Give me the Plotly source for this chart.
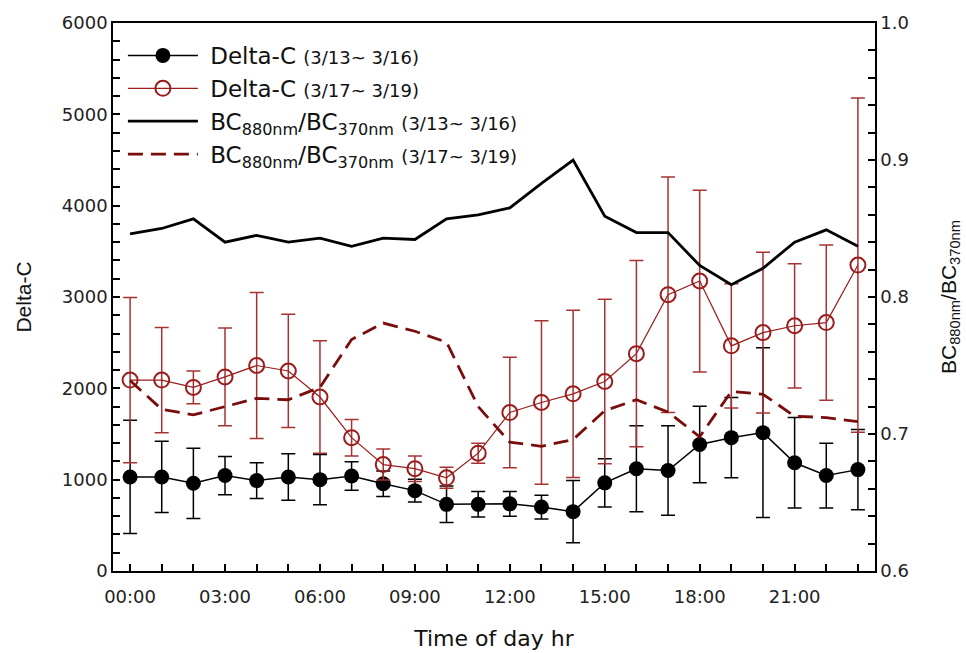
import plotly.graph_objects as go

hours = list(range(24))
tick_hours = [0, 3, 6, 9, 12, 15, 18, 21]
tick_labels = ["00:00", "03:00", "06:00", "09:00", "12:00", "15:00", "18:00", "21:00"]

# Delta-C (3/13~3/16) mean and SD
dc1 = [1030, 1030, 960, 1045, 990, 1030, 1000, 1040, 955, 880, 730, 730,
       735, 700, 650, 965, 1120, 1100, 1385, 1460, 1515, 1185, 1045, 1110]
dc1_err = [620, 390, 385, 210, 195, 255, 275, 155, 140, 125, 200, 140,
           135, 130, 340, 265, 470, 490, 420, 440, 930, 495, 355, 440]

# Delta-C (3/17~3/19) mean and SD
dc2 = [2090, 2090, 2010, 2125, 2250, 2190, 1905, 1460, 1165, 1120, 1020, 1290,
       1735, 1845, 1940, 2075, 2380, 3025, 3175, 2465, 2610, 2685, 2720, 3350]
dc2_err = [905, 575, 180, 535, 800, 620, 615, 200, 170, 140, 115, 110,
           605, 895, 915, 900, 1020, 1290, 995, 680, 880, 680, 850, 1830]

# BC880/BC370 ratio
ratio1 = [0.846, 0.850, 0.857, 0.840, 0.845, 0.840, 0.843, 0.837, 0.843, 0.842, 0.857, 0.860,
          0.865, 0.883, 0.900, 0.859, 0.847, 0.847, 0.823, 0.809, 0.821, 0.840, 0.849, 0.837]
ratio2 = [0.739, 0.718, 0.714, 0.720, 0.726, 0.725, 0.734, 0.769, 0.781, 0.775, 0.767, 0.720,
          0.694, 0.691, 0.696, 0.717, 0.725, 0.716, 0.698, 0.731, 0.729, 0.713, 0.712, 0.709]

RED = "#9a1c1c"
RED_ERR = "#a83232"
DARKRED = "#7a0c0c"
FONT = "Liberation Sans, Arial, sans-serif"
WIDE = "DejaVu Sans, Liberation Sans, sans-serif"

small = "<span style='font-size:18px'>"
nb = "\u00a0"
names = [
    nb + "Delta-C " + small + "(3/13~ 3/16)</span>",
    nb + "Delta-C " + small + "(3/17~ 3/19)</span>",
    nb + "BC<sub>880nm</sub>/BC<sub>370nm</sub> " + small + "(3/13~ 3/16)</span>",
    nb + "BC<sub>880nm</sub>/BC<sub>370nm</sub> " + small + "(3/17~ 3/19)</span>",
]

fig = go.Figure()

fig.add_trace(go.Scatter(
    x=hours, y=dc1, name=names[0], mode="lines+markers",
    line=dict(color="black", width=1.5),
    marker=dict(symbol="circle", size=15, color="black"),
    error_y=dict(type="data", array=dc1_err, visible=True, color="black", thickness=1.5, width=7),
))
fig.add_trace(go.Scatter(
    x=hours, y=dc2, name=names[1], mode="lines+markers",
    line=dict(color=RED, width=1.2),
    marker=dict(symbol="circle-open", size=15, color=RED, line=dict(width=2, color=RED)),
    error_y=dict(type="data", array=dc2_err, visible=True, color=RED_ERR, thickness=1.5, width=7),
))
fig.add_trace(go.Scatter(
    x=hours, y=ratio1, name=names[2], mode="lines", yaxis="y2",
    line=dict(color="black", width=2.8),
))
fig.add_trace(go.Scatter(
    x=hours, y=ratio2, name=names[3], mode="lines", yaxis="y2",
    line=dict(color=DARKRED, width=2.8, dash="15px,8px"),
))

axis_font = dict(family=WIDE, size=18, color="#222")

fig.update_layout(
    width=966, height=653,
    margin=dict(l=113, r=91, t=23, b=82, autoexpand=False),
    paper_bgcolor="white", plot_bgcolor="white",
    font=dict(family=WIDE, color="#111"),
    showlegend=True,
    legend=dict(
        x=0.013, y=0.98, xanchor="left", yanchor="top",
        bgcolor="rgba(0,0,0,0)", borderwidth=0,
        font=dict(family=WIDE, size=23, color="#111"),
        itemwidth=70, tracegroupgap=0,
    ),
    xaxis=dict(
        range=[-0.54, 23.54], automargin=False,
        tickmode="array", tickvals=tick_hours, ticktext=tick_labels,
        ticks="inside", ticklen=7, tickwidth=1.5, tickcolor="black",
        ticklabelstandoff=9,
        minor=dict(tickmode="array", tickvals=hours, ticks="inside", ticklen=7, tickwidth=1.5, tickcolor="black"),
        showline=True, linecolor="black", linewidth=1.5, mirror=True,
        showgrid=False, zeroline=False,
        tickfont=axis_font,
        title=dict(text="Time of day hr", font=dict(family=WIDE, size=22, color="#111"), standoff=24),
    ),
    yaxis=dict(
        range=[0, 6000], automargin=False,
        tickmode="linear", tick0=0, dtick=1000,
        ticks="inside", ticklen=7, tickwidth=1.5, tickcolor="black",
        minor=dict(dtick=200, ticks="inside", ticklen=7, tickwidth=1.5, tickcolor="black"),
        showline=True, linecolor="black", linewidth=1.5,
        showgrid=False, zeroline=False,
        tickfont=axis_font,
        title=dict(text="Delta-C", font=dict(family=FONT, size=21, color="#111"), standoff=24),
    ),
    yaxis2=dict(
        range=[0.6, 1.0], overlaying="y", side="right", automargin=False,
        tickmode="linear", tick0=0.6, dtick=0.1, tickformat=".1f",
        ticks="inside", ticklen=7, tickwidth=1.5, tickcolor="black",
        minor=dict(dtick=0.02, ticks="inside", ticklen=7, tickwidth=1.5, tickcolor="black"),
        showline=True, linecolor="black", linewidth=1.5,
        showgrid=False, zeroline=False,
        tickfont=axis_font,
        title=dict(text="BC<sub>880nm</sub>/BC<sub>370nm</sub>", font=dict(family=FONT, size=21, color="#111"), standoff=33),
    ),
)

fig.write_html("out.html")
